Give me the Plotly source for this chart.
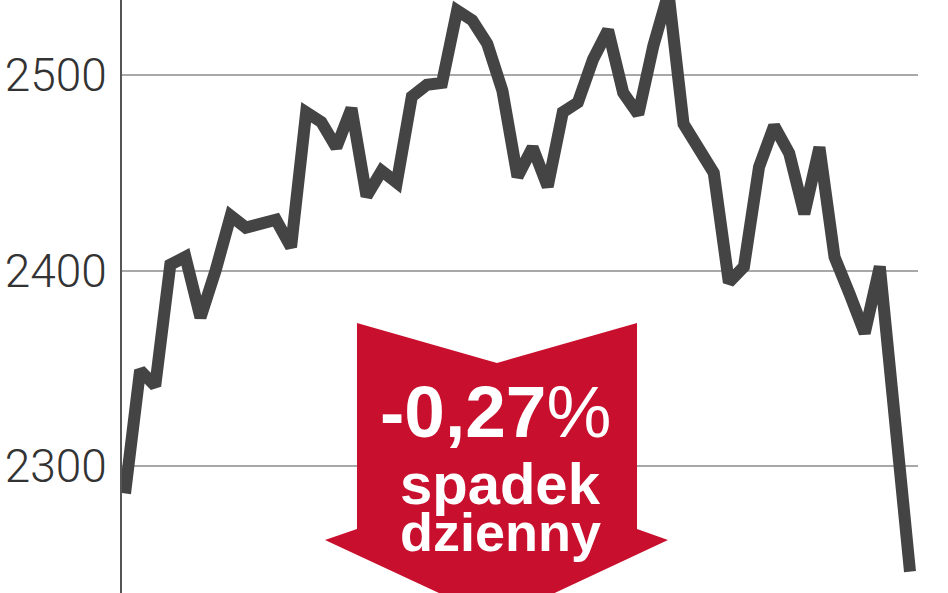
import plotly.graph_objects as go

# sesje (kolejne notowania) i wartości indeksu
sessions = list(range(1, 54))
values = [
    2286, 2349, 2341, 2403, 2407, 2376, 2400, 2428, 2422, 2424,
    2426, 2412, 2481, 2476, 2463, 2483, 2438, 2451, 2445, 2489,
    2495, 2496, 2533, 2528, 2516, 2492, 2448, 2463, 2443, 2481,
    2486, 2508, 2523, 2491, 2480, 2515, 2542, 2475, 2462, 2450,
    2394, 2402, 2453, 2474, 2460, 2429, 2463, 2407, 2388, 2368,
    2402, 2324, 2246,
]
tick_values = [2300, 2400, 2500]
tick_labels = ["2300", "2400", "2500"]
change_text = "-0,27"
change_caption = ["spadek", "dzienny"]

W, H = 948, 593
L, R, T, B = 122, 30, 0, 0


def px(x, y):
    # pixel position -> paper coordinates
    return (x - L) / (W - L - R), 1 - (y - T) / (H - T - B)


fig = go.Figure()

fig.add_trace(
    go.Scatter(
        x=sessions,
        y=values,
        mode="lines",
        line=dict(color="#444444", width=12),
        hoverinfo="skip",
        showlegend=False,
    )
)

# czerwona strzałka w dół
arrow_pts = [(357, 323), (497, 363), (637, 323), (637, 529), (668, 540),
             (497, 620), (325, 540), (357, 529)]
path = "M " + " L ".join("%.4f,%.4f" % px(x, y) for x, y in arrow_pts) + " Z"
fig.add_shape(
    type="path", path=path, xref="paper", yref="paper",
    fillcolor="#c8102e", line=dict(width=0), layer="above",
)

fx, fy = px(495, 411)
fig.add_annotation(
    x=fx, y=fy, xref="paper", yref="paper", showarrow=False,
    text="<b>" + change_text + "</b>%",
    font=dict(family="Liberation Sans, Arial, sans-serif", size=73, color="white"),
    xanchor="center", yanchor="middle",
)
fx, fy = px(500, 483)
fig.add_annotation(
    x=fx, y=fy, xref="paper", yref="paper", showarrow=False,
    text="<b>" + change_caption[0] + "</b>",
    font=dict(family="Liberation Sans, Arial, sans-serif", size=58, color="white"),
    xanchor="center", yanchor="middle",
)
fx, fy = px(500, 532)
fig.add_annotation(
    x=fx, y=fy, xref="paper", yref="paper", showarrow=False,
    text="<b>" + change_caption[1] + "</b>",
    font=dict(family="Liberation Sans, Arial, sans-serif", size=54, color="white"),
    xanchor="center", yanchor="middle",
)

fig.update_layout(
    width=W,
    height=H,
    margin=dict(l=L, r=R, t=T, b=B),
    paper_bgcolor="white",
    plot_bgcolor="white",
    xaxis=dict(visible=False, range=[0.8, 53.53]),
    yaxis=dict(
        range=[2235.1, 2538.4],
        tickvals=tick_values,
        ticktext=tick_labels,
        ticks="",
        ticklabelstandoff=4,
        tickfont=dict(family="Roboto, sans-serif", size=46, color="#333333", weight=300),
        showgrid=True,
        gridcolor="#a8a8a8",
        gridwidth=2,
        zeroline=False,
        showline=True,
        linecolor="#555555",
        linewidth=2,
    ),
)

config = {"displayModeBar": False}

# bez domyślnego marginesu strony, żeby wykres zaczynał się w rogu okna
fig.write_html("out.html", config=config,
               post_script="document.body.style.margin='0px';")
